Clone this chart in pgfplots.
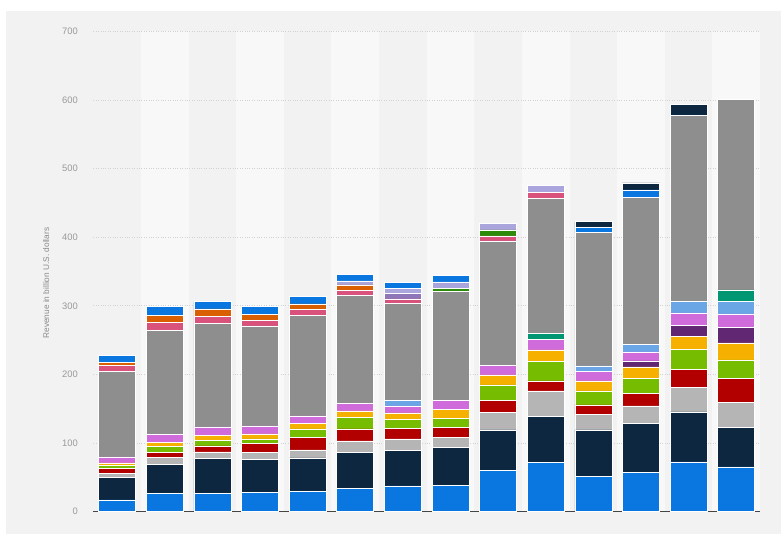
\documentclass[border=0pt]{standalone}
\usepackage{fontspec}
\setmainfont{Liberation Sans}
\usepackage{pgfplots}
\usepackage{pgfplotstable}
\pgfplotsset{compat=1.18}

\definecolor{bgcol}{HTML}{F2F2F2}
\definecolor{bandcol}{HTML}{F8F8F8}
\definecolor{cBlue}{HTML}{0A77E0}
\definecolor{cNavy}{HTML}{0E2740}
\definecolor{cLgray}{HTML}{B5B5B5}
\definecolor{cRed}{HTML}{B20000}
\definecolor{cGreen}{HTML}{76BC00}
\definecolor{cYellow}{HTML}{F5B000}
\definecolor{cPurple}{HTML}{612773}
\definecolor{cViolet}{HTML}{CF6BDB}
\definecolor{cLblue}{HTML}{6AA6E6}
\definecolor{cTeal}{HTML}{009672}
\definecolor{cGray}{HTML}{8E8E8E}
\definecolor{cPink}{HTML}{D9527C}
\definecolor{cOrange}{HTML}{D95F00}
\definecolor{cMedp}{HTML}{8E76B8}
\definecolor{cDgreen}{HTML}{2C8C0A}
\definecolor{cLav}{HTML}{AAA5DC}
\definecolor{tickcol}{HTML}{9A9A9A}
\definecolor{labcol}{HTML}{8A8A8A}
\definecolor{basecol}{HTML}{454545}
\definecolor{gridcol}{HTML}{D2D2D2}

% revenue segments per bar (billion U.S. dollars), stacked bottom to top
\pgfplotstableread{
x blue navy lgray red green yellow purple violet lblue teal gray pink orange medp dgreen lav topblue topnavy
0  16.8 33.1  5.8  7.3  4.4  3.4  0.0  8.7  0.0  0.0 124.5  9.3  4.4 0.0 0.0 0.0  9.7  0.0
1  26.5 42.3 10.3  6.7  8.8  5.8  0.0 12.2  0.0  0.0 151.8 11.1 10.7 0.0 0.0 0.0 12.6  0.0
2  26.5 51.1  9.2  8.8  8.3  7.3  0.0 12.1  0.0  0.0 150.7 10.8 10.6 0.0 0.0 0.0 10.7  0.0
3  28.0 48.2  9.6 13.7  6.3  7.3  0.0 11.6  0.0  0.0 145.9  8.4  8.7 0.0 0.0 0.0 11.1  0.0
4  29.4 48.7 11.6 18.5 12.2  8.2  0.0 10.7  0.0  0.0 146.9  8.8  7.8 0.0 0.0 0.0 11.2  0.0
5  33.8 52.0 17.1 17.5 17.0  9.2  0.0 10.7  0.0  0.0 158.1  7.3  7.8 0.0 0.0 5.8  9.2  0.0
6  37.2 51.5 17.1 15.0 13.7  9.2  0.0 10.2  8.3  0.0 141.6  6.2  0.0 8.4 0.0 6.7  8.7  0.0
7  38.2 54.9 15.1 14.6 12.6 13.7  0.0 12.6  0.0  0.0 159.0  0.0  0.0 0.0 4.4 9.7  9.2  0.0
8  59.5 59.4 25.8 17.0 22.9 14.6  0.0 13.5  0.0  0.0 182.0  7.3  0.0 0.0 8.7 9.8  0.0  0.0
9  71.8 67.1 36.9 14.6 28.2 17.0  0.0 15.6  0.0  8.2 197.0  9.3  0.0 0.0 0.0 9.6  0.0  0.0
10 50.8 68.1 22.9 13.6 20.4 14.6  0.0 14.1  7.8  0.0 194.5  0.0  0.0 0.0 0.0 0.0  7.8  8.2
11 57.1 71.5 25.3 18.5 21.4 17.0  8.8 13.1 11.2  0.0 214.5  0.0  0.0 0.0 0.0 0.0 10.7 10.2
12 72.2 73.0 36.0 26.3 28.6 19.5 15.5 18.5 17.1  0.0 270.8  0.0  0.0 0.0 0.0 0.0  0.0 16.0
13 64.9 57.9 36.5 34.5 27.2 24.8 22.4 20.0 18.5 16.5 277.2  0.0  0.0 0.0 0.0 0.0  0.0  0.0
}\revtable

\begin{document}
\begin{tikzpicture}[x=1pt,y=1pt]
  \useasboundingbox (0,0) rectangle (781,534);
  \fill[white] (0,0) rectangle (781,534);
  \fill[bgcol] (6,0) rectangle (781,523);
  % lighter bands behind every second category slot
  \foreach \i in {1,3,...,13} {
    \fill[bandcol] ({93.4+47.614*\i},22.5) rectangle ({93.4+47.614*(\i+1)},502.5);
  }
  \begin{axis}[
    at={(93.4pt,22.5pt)}, anchor=south west,
    scale only axis,
    width=666.6pt, height=480pt,
    xmin=-0.5, xmax=13.5,
    ymin=0, ymax=700,
    ytick={0,100,...,700},
    xtick=\empty,
    major tick length=0pt,
    axis x line*=bottom,
    axis y line*=left,
    y axis line style={draw=none},
    x axis line style={draw=basecol, line width=1.6pt},
    ymajorgrids,
    grid style={gridcol, dotted, line width=0.8pt},
    /pgf/number format/assume math mode=true,
    yticklabel style={font=\fontsize{9.4}{11}\selectfont, text=tickcol, xshift=-12pt},
    ylabel={Revenue in billion U.S. dollars},
    ylabel style={font=\fontsize{8.3}{10}\selectfont, text=labcol,
      at={(axis description cs:-0.071,0.476)}, anchor=center},
    ybar stacked,
    bar width=37pt,
    every axis plot/.append style={draw=white, line width=0.6pt},
  ]
    \addplot[fill=cBlue]   table[x=x, y=blue]    {\revtable};
    \addplot[fill=cNavy]   table[x=x, y=navy]    {\revtable};
    \addplot[fill=cLgray]  table[x=x, y=lgray]   {\revtable};
    \addplot[fill=cRed]    table[x=x, y=red]     {\revtable};
    \addplot[fill=cGreen]  table[x=x, y=green]   {\revtable};
    \addplot[fill=cYellow] table[x=x, y=yellow]  {\revtable};
    \addplot[fill=cPurple] table[x=x, y=purple]  {\revtable};
    \addplot[fill=cViolet] table[x=x, y=violet]  {\revtable};
    \addplot[fill=cLblue]  table[x=x, y=lblue]   {\revtable};
    \addplot[fill=cTeal]   table[x=x, y=teal]    {\revtable};
    \addplot[fill=cGray]   table[x=x, y=gray]    {\revtable};
    \addplot[fill=cPink]   table[x=x, y=pink]    {\revtable};
    \addplot[fill=cOrange] table[x=x, y=orange]  {\revtable};
    \addplot[fill=cMedp]   table[x=x, y=medp]    {\revtable};
    \addplot[fill=cDgreen] table[x=x, y=dgreen]  {\revtable};
    \addplot[fill=cLav]    table[x=x, y=lav]     {\revtable};
    \addplot[fill=cBlue]   table[x=x, y=topblue] {\revtable};
    \addplot[fill=cNavy]   table[x=x, y=topnavy] {\revtable};
  \end{axis}
\end{tikzpicture}
\end{document}
